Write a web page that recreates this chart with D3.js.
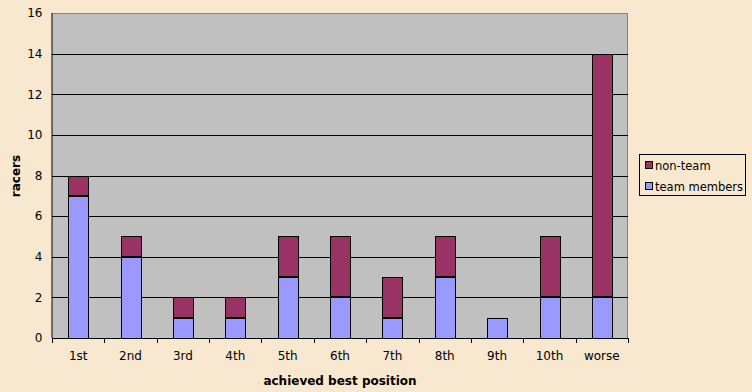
<!DOCTYPE html>
<html><head><meta charset="utf-8">
<script src="https://cdn.jsdelivr.net/npm/d3@7"></script>
<style>body{margin:0;background:#F9E8D0;}svg{display:block;}text{font-family:"DejaVu Sans","Liberation Sans",sans-serif;}</style>
</head><body><svg id="c" width="752" height="392"></svg>
<script>
const categories = ["1st","2nd","3rd","4th","5th","6th","7th","8th","9th","10th","worse"];
const teamMembers = [7,4,1,1,3,2,1,3,1,2,2];
const nonTeam = [1,1,1,1,2,3,2,2,0,3,12];
const yTicks = [0,2,4,6,8,10,12,14,16];
const seriesNames = ["team members","non-team"];
const colors = {"team members":"#9999FF","non-team":"#993366"};

const svg = d3.select("#c");
svg.append("rect").attr("width",752).attr("height",392).attr("fill","#F9E8D0");
const L=52,R=628,T=13,B=338;
const x = d3.scaleBand().domain(categories).range([L,R]).paddingInner(0.62).paddingOuter(0.31);
const xb = d3.scaleBand().domain(categories).range([L,R]);
const y = d3.scaleLinear().domain([0,16]).range([B,T]);

svg.append("rect").attr("x",L).attr("y",T).attr("width",R-L).attr("height",B-T).attr("fill","#C0C0C0");
svg.append("path").attr("d",`M${L},${T+0.5}H${R-0.5}V${B}`).attr("fill","none").attr("stroke","#808080");
svg.selectAll("line.grid").data(yTicks.filter(d=>d>0&&d<16)).join("line")
  .attr("x1",L).attr("x2",R).attr("y1",d=>Math.round(y(d))+0.5).attr("y2",d=>Math.round(y(d))+0.5)
  .attr("stroke","#000");

const rows = categories.map((c,i)=>({cat:c,"team members":teamMembers[i],"non-team":nonTeam[i]}));
const stack = d3.stack().keys(seriesNames)(rows);
stack.forEach(s=>{
  svg.append("g").selectAll("rect").data(s.filter(d=>d[1]-d[0]>0)).join("rect")
    .attr("x",d=>Math.round(x(d.data.cat))+0.5).attr("width",Math.round(x.bandwidth()))
    .attr("y",d=>Math.round(y(d[1]))+0.5).attr("height",d=>Math.round(y(d[0]))-Math.round(y(d[1])))
    .attr("fill",colors[s.key]).attr("stroke","#000");
});
// thicker separator between stacked segments
svg.append("g").selectAll("line").data(stack[1].filter(d=>d[1]-d[0]>0 && d[0]>0)).join("line")
  .attr("x1",d=>Math.round(x(d.data.cat))+0.5).attr("x2",d=>Math.round(x(d.data.cat))+0.5+Math.round(x.bandwidth()))
  .attr("y1",d=>Math.round(y(d[0]))-0.5).attr("y2",d=>Math.round(y(d[0]))-0.5).attr("stroke","#000");

// axes
const yAxis = svg.append("g").attr("transform",`translate(${L+0.5},0)`)
  .call(d3.axisLeft(y).tickValues(yTicks).tickSize(5).tickPadding(5));
yAxis.select(".domain").attr("d",`M-0.5,${T}V${B}`);
yAxis.selectAll(".tick line").attr("x1",-5);
const xAxis = svg.append("g").attr("transform",`translate(0,${B+0.5})`)
  .call(d3.axisBottom(xb).tickSize(0).tickPadding(13));
xAxis.select(".domain").attr("d",`M${L},0H${R}`);
svg.selectAll("line.xt").data(d3.range(categories.length+1)).join("line")
  .attr("x1",i=>Math.round(L+i*xb.step())+0.5).attr("x2",i=>Math.round(L+i*xb.step())+0.5)
  .attr("y1",B).attr("y2",B+5).attr("stroke","#000");
svg.selectAll(".tick text").attr("font-size",12).attr("fill","#000")
  .attr("font-family","'DejaVu Sans',sans-serif");
svg.selectAll(".domain").attr("stroke","#000");

svg.append("text").attr("x",340).attr("y",385).attr("text-anchor","middle")
  .attr("font-size",12).attr("font-weight","bold").text("achieved best position");
svg.append("text").attr("transform","translate(20,176) rotate(-90)").attr("text-anchor","middle")
  .attr("font-size",12).attr("font-weight","bold").text("racers");

// legend
const lg = svg.append("g");
lg.append("rect").attr("x",639.5).attr("y",154.5).attr("width",106).attr("height",41).attr("fill","#F9E8D0").attr("stroke","#000");
const legItems = ["non-team","team members"];
legItems.forEach((k,i)=>{
  const yy = 166 + i*21;
  lg.append("rect").attr("x",645.5).attr("y",yy-4.5).attr("width",7).attr("height",7).attr("fill",colors[k]).attr("stroke","#000");
  lg.append("text").attr("x",655).attr("y",yy+4).attr("font-size",11.5).text(k);
});
</script></body></html>
